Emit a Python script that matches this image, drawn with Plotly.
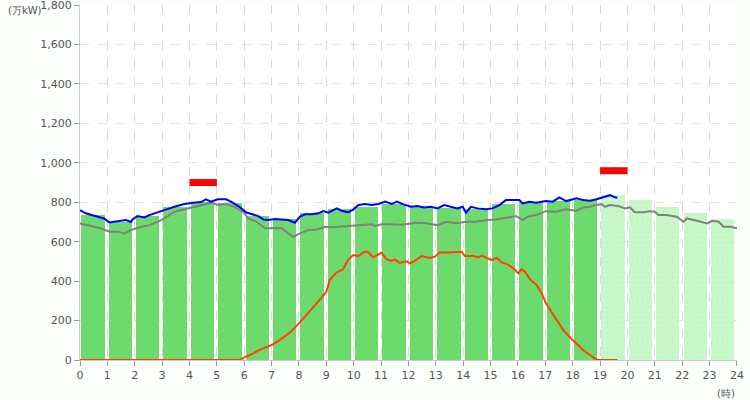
import plotly.graph_objects as go

# ---------------- data ----------------
hours = list(range(24))
hourly_demand = [735, 700, 730, 774, 803, 798, 730, 713, 744, 764,
                 775, 791, 774, 769, 764, 791, 803, 808, 811,
                 836, 811, 774, 745, 715]
forecast_from = 19  # hours >= this are forecast (light bars)

peak_hours = [4, 19]
peak_values = [900, 960]

actual_t = [0.0, 0.21, 0.52, 0.88, 1.07, 1.25, 1.49, 1.68, 1.86, 1.92, 2.10, 2.35, 2.53, 2.84,
            3.08, 3.45, 3.81, 4.12, 4.42, 4.60, 4.79, 5.03, 5.34, 5.58, 5.82, 6.08,
            6.27, 6.51, 6.70, 6.88, 7.12, 7.37, 7.61, 7.85, 8.04, 8.22, 8.46, 8.71, 8.89,
            9.07, 9.38, 9.56, 9.80, 9.99, 10.17, 10.41, 10.66, 10.90, 11.15, 11.39, 11.57,
            11.82, 12.09, 12.33, 12.57, 12.82, 13.06, 13.30, 13.55, 13.79, 13.98, 14.10,
            14.28, 14.52, 14.83, 15.07, 15.32, 15.56, 15.80, 16.05, 16.17, 16.41, 16.66,
            17.02, 17.27, 17.51, 17.76, 18.00, 18.14, 18.38, 18.63, 18.87, 19.12, 19.36,
            19.54, 19.63]
actual_v = [760, 744, 732, 718, 698, 701, 706, 710, 700, 713, 730, 723, 735, 747,
            760, 777, 791, 798, 801, 815, 803, 815, 815, 798, 777, 748,
            739, 730, 713, 710, 715, 713, 710, 696, 727, 739, 739, 744, 755,
            747, 769, 757, 749, 764, 786, 791, 786, 791, 803, 791, 803,
            789, 777, 781, 774, 777, 769, 786, 777, 769, 777, 747,
            777, 769, 764, 769, 786, 811, 811, 811, 794, 803, 798,
            806, 803, 825, 806, 815, 820, 811, 808, 815, 825, 836,
            825, 823]

prev_t = [0.0, 0.40, 0.76, 1.07, 1.37, 1.62, 1.86, 2.23, 2.53, 2.84, 3.08, 3.45, 3.81,
          4.12, 4.42, 4.79, 5.03, 5.34, 5.64, 5.95, 6.15, 6.45, 6.76, 7.00, 7.37, 7.61,
          7.79, 8.04, 8.34, 8.65, 8.95, 9.20, 9.56, 9.93, 10.29, 10.66, 10.78, 11.02,
          11.39, 11.76, 12.27, 12.63, 13.06, 13.37, 13.73, 14.10, 14.46, 14.83, 15.20,
          15.56, 15.93, 16.17, 16.35, 16.66, 17.02, 17.39, 17.76, 18.00, 18.14, 18.38,
          18.63, 18.87, 19.05, 19.18, 19.36, 19.67, 19.91, 20.09, 20.27, 20.58, 20.82,
          21.00, 21.13, 21.43, 21.80, 22.05, 22.17, 22.54, 22.91, 23.09, 23.33, 23.51,
          23.76, 24.0]
prev_v = [693, 681, 668, 651, 651, 642, 659, 676, 684, 701, 718, 752, 764,
          777, 786, 798, 786, 791, 777, 752, 718, 701, 668, 668, 669, 642,
          625, 642, 659, 662, 676, 673, 676, 680, 683, 688, 680, 688,
          688, 686, 696, 693, 684, 701, 693, 701, 701, 710, 713,
          723, 730, 710, 727, 735, 755, 752, 764, 760, 757, 774,
          777, 786, 791, 777, 786, 781, 769, 774, 749, 749, 755,
          752, 735, 735, 727, 701, 718, 706, 693, 706, 701, 676,
          676, 668]

solar_t = [0.0, 5.85, 6.0, 6.20, 6.56, 7.0, 7.29, 7.66, 8.0, 8.39, 8.70, 9.0, 9.12, 9.37,
           9.61, 9.79, 9.98, 10.16, 10.40, 10.52, 10.71, 11.01, 11.20, 11.38, 11.50,
           11.68, 11.93, 12.05, 12.23, 12.48, 12.78, 12.96, 13.15, 13.45, 13.76, 13.94,
           14.06, 14.37, 14.55, 14.67, 14.85, 15.04, 15.22, 15.40, 15.59, 15.83, 16.01,
           16.13, 16.26, 16.44, 16.68, 16.87, 17.02, 17.17, 17.35, 17.54, 17.65, 18.0,
           18.38, 18.75, 18.9, 19.63]
solar_v = [0, 0, 13, 25, 51, 76, 101, 138, 186, 245, 296, 346, 406, 443,
           460, 507, 532, 527, 549, 548, 521, 544, 510, 503, 510,
           492, 501, 490, 503, 527, 518, 524, 546, 545, 548, 549,
           527, 527, 521, 530, 518, 507, 518, 495, 487, 465, 440,
           460, 448, 409, 380, 338, 287, 253, 216, 177, 152, 101,
           51, 13, 0, 0]

y_ticks = list(range(0, 1801, 200))
x_ticks = list(range(0, 25))

# ---------------- figure ----------------
DARK = "#6dda6d"
LIGHT = "#c8f8c8"

fig = go.Figure()

past = [h for h in hours if h < forecast_from]
fut = [h for h in hours if h >= forecast_from]

fig.add_trace(go.Bar(
    x=[h + 0.475 for h in past], y=[hourly_demand[h] for h in past],
    width=0.85, marker=dict(color=DARK, line=dict(width=0)), hoverinfo="skip"))
fig.add_trace(go.Bar(
    x=[h + 0.475 for h in fut], y=[hourly_demand[h] for h in fut],
    width=0.85, marker=dict(color=LIGHT, line=dict(width=0),
                            pattern=dict(shape=".", fgcolor="#b9eab9", bgcolor=LIGHT,
                                         size=5, solidity=0.15)),
    hoverinfo="skip"))

fig.add_trace(go.Scatter(x=prev_t, y=prev_v, mode="lines",
                         line=dict(color="#808080", width=2), hoverinfo="skip"))
fig.add_trace(go.Scatter(x=solar_t, y=solar_v, mode="lines",
                         line=dict(color="#ff4000", width=2), hoverinfo="skip"))
fig.add_trace(go.Scatter(x=actual_t, y=actual_v, mode="lines",
                         line=dict(color="#0000ff", width=2), hoverinfo="skip"))

for h, v in zip(peak_hours, peak_values):
    fig.add_trace(go.Scatter(x=[h, h + 1], y=[v, v], mode="lines",
                             line=dict(color="#ff0000", width=7), hoverinfo="skip"))

fig.update_layout(
    width=750, height=400,
    margin=dict(l=80, r=13, t=5, b=40),
    paper_bgcolor="#fcfefc", plot_bgcolor="#ffffff",
    showlegend=False, barmode="overlay", bargap=0,
    font=dict(family="DejaVu Sans", size=11, color="#555555"),
    xaxis=dict(range=[0, 24.001], tickmode="array", tickvals=x_ticks,
               ticktext=[str(t) for t in x_ticks], ticklabeloverflow="allow",
               automargin=False,
               showgrid=True, gridcolor="#d8d8d8", griddash="dash", gridwidth=1,
               showline=True, linecolor="#cccccc", linewidth=1,
               ticks="outside", ticklen=5, tickcolor="#999999",
               zeroline=False, fixedrange=True),
    yaxis=dict(range=[0, 1800.5], tickmode="array", tickvals=y_ticks,
               ticktext=[f"{t:,}" for t in y_ticks], ticklabeloverflow="allow",
               automargin=False,
               showgrid=True, gridcolor="#e2e2e2", griddash="dash", gridwidth=1,
               showline=True, linecolor="#cccccc", linewidth=1,
               ticks="outside", ticklen=5, tickcolor="#999999",
               zeroline=False, fixedrange=True),
    annotations=[
        dict(text="(万kW)", xref="paper", yref="paper", x=-0.055, y=0.984,
             xanchor="right", yanchor="middle", showarrow=False,
             font=dict(size=10, color="#555555")),
        dict(text="(時)", xref="paper", yref="paper", x=1.0, y=-0.095,
             xanchor="right", yanchor="middle", showarrow=False,
             font=dict(size=10, color="#555555")),
    ],
)

fig.write_html("out.html", config={"displayModeBar": False},
               post_script="document.body.style.margin='0px';document.body.style.background='#fcfefc';")
